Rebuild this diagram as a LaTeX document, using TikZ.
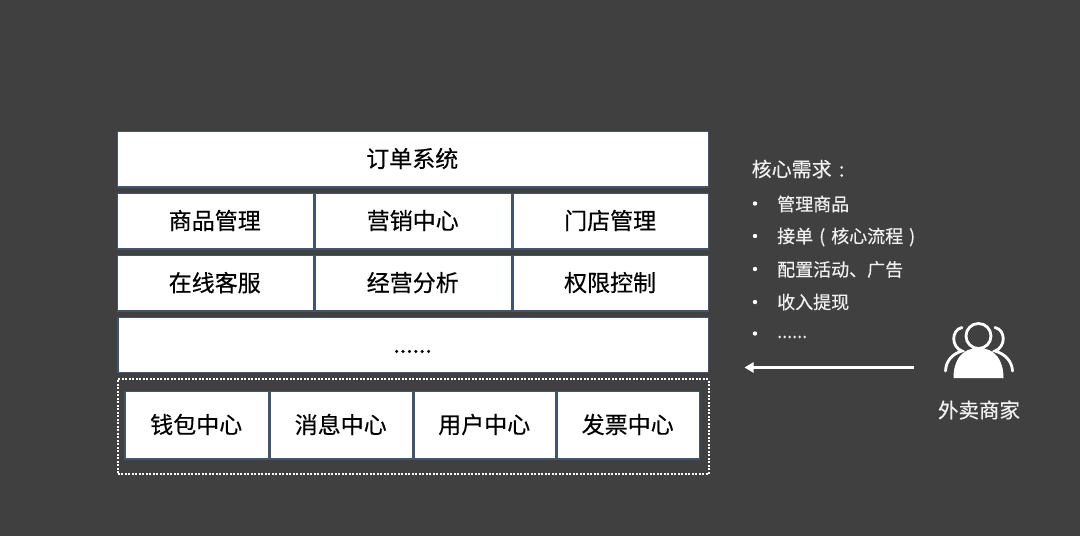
\documentclass[tikz,border=0pt]{standalone}
\usepackage{fontspec}
\setmainfont[RawFeature={embolden=0.35}]{Noto Sans CJK SC}
\usetikzlibrary{arrows.meta}
\definecolor{bgc}{HTML}{404040}
\definecolor{edgec}{HTML}{44546A}
\tikzset{
 cell/.style={fill=white,draw=edgec,line width=1.5pt,outer sep=0pt,anchor=north west,inner sep=0pt,text=black,font=\fontsize{23}{23}\selectfont},
 lab/.style={text=white!94!black,anchor=west,inner sep=0pt},
 bul/.style={circle,fill=white,inner sep=0pt,minimum size=4.4pt},
 icon/.style={draw=white,line width=2.8pt,line cap=round}
}
\newcommand{\cellbox}[6]{\node[cell,minimum width=#4pt,minimum height=#5pt] (#1) at (#2,#3) {\raisebox{0.5pt}[\height][\depth]{\hspace*{-1pt}#6}};}
\begin{document}
\begin{tikzpicture}[x=1pt,y=-1pt]
\fill[bgc] (0,0) rectangle (1080,536);
\useasboundingbox (0,0) rectangle (1080,536);
\cellbox{order}{117.25}{131.25}{591}{55.5}{订单系统}
\cellbox{goods}{117.25}{193.25}{196}{55.5}{商品管理}
\cellbox{market}{315}{193.25}{196.5}{55.5}{营销中心}
\cellbox{store}{513}{193.25}{195.25}{55.5}{门店管理}
\cellbox{service}{117.25}{255.25}{196}{55.75}{在线客服}
\cellbox{analysis}{315}{255.25}{196.5}{55.75}{经营分析}
\cellbox{perm}{513}{255.25}{195.25}{55.75}{权限控制}
\cellbox{more}{118}{317.25}{590.25}{55}{\raisebox{-8.5pt}[0pt][0pt]{......}}
\node[draw=white,dash pattern=on 2pt off 1.5pt,line width=2pt,outer sep=0pt,anchor=north west,minimum width=591pt,minimum height=94.7pt,inner sep=0pt] (group) at (117.5,379.3) {};
\cellbox{wallet}{125}{391.25}{143.5}{67.5}{钱包中心}
\cellbox{msg}{270}{391.25}{142.5}{67.5}{消息中心}
\cellbox{user}{414}{391.25}{141.5}{67.5}{用户中心}
\cellbox{invoice}{557}{391.25}{142.5}{67.5}{发票中心}
\node[lab,font=\fontsize{20}{20}\selectfont] (title) at (751.5,169) {核心需求\makebox[20pt]{:}};
\begin{scope}[font=\fontsize{18}{18}\selectfont]
\node[lab] (i1) at (777,204) {管理商品};
\node[lab] (i2) at (777,237) {接单\makebox[18pt]{(}核心流程\makebox[18pt]{)}};
\node[lab] (i3) at (777,269.5) {配置活动、广告};
\node[lab] (i4) at (777,302) {收入提现};
\node[lab] (i5) at (777,335) {\raisebox{-3pt}[0pt][0pt]{......}};
\end{scope}
\node[bul] (b1) at (755,203.5) {};
\node[bul] (b2) at (755,236) {};
\node[bul] (b3) at (755,269) {};
\node[bul] (b4) at (755,302) {};
\node[bul] (b5) at (755,333.5) {};
% merchant icon
\coordinate (head) at (978.5,336);
\fill[white] (953.5,378) .. controls (953.5,360) and (962,348) .. (978.5,348) .. controls (995,348) and (1003.5,360) .. (1003.5,378) -- cycle;
\draw[icon] (head) circle (12.5);
\draw[icon] (962,327.5) .. controls (951,330) and (951,347) .. (962,351) .. controls (952,354) and (946,361) .. (945.5,371);
\draw[icon] (995,327.5) .. controls (1006,330) and (1006,347) .. (995,351) .. controls (1005,354) and (1012,361) .. (1012.5,371);
\node[text=white!94!black,font=\fontsize{20.5}{20.5}\selectfont,inner sep=0pt] (merchant) at (979,410) {外卖商家};
\coordinate (arrowstart) at (914,367.5);
\coordinate (arrowend) at (744.5,367.5);
\draw[white,line width=2.8pt,-{Triangle[length=9pt,width=10pt]}] (arrowstart) -- (arrowend);
\end{tikzpicture}
\end{document}
